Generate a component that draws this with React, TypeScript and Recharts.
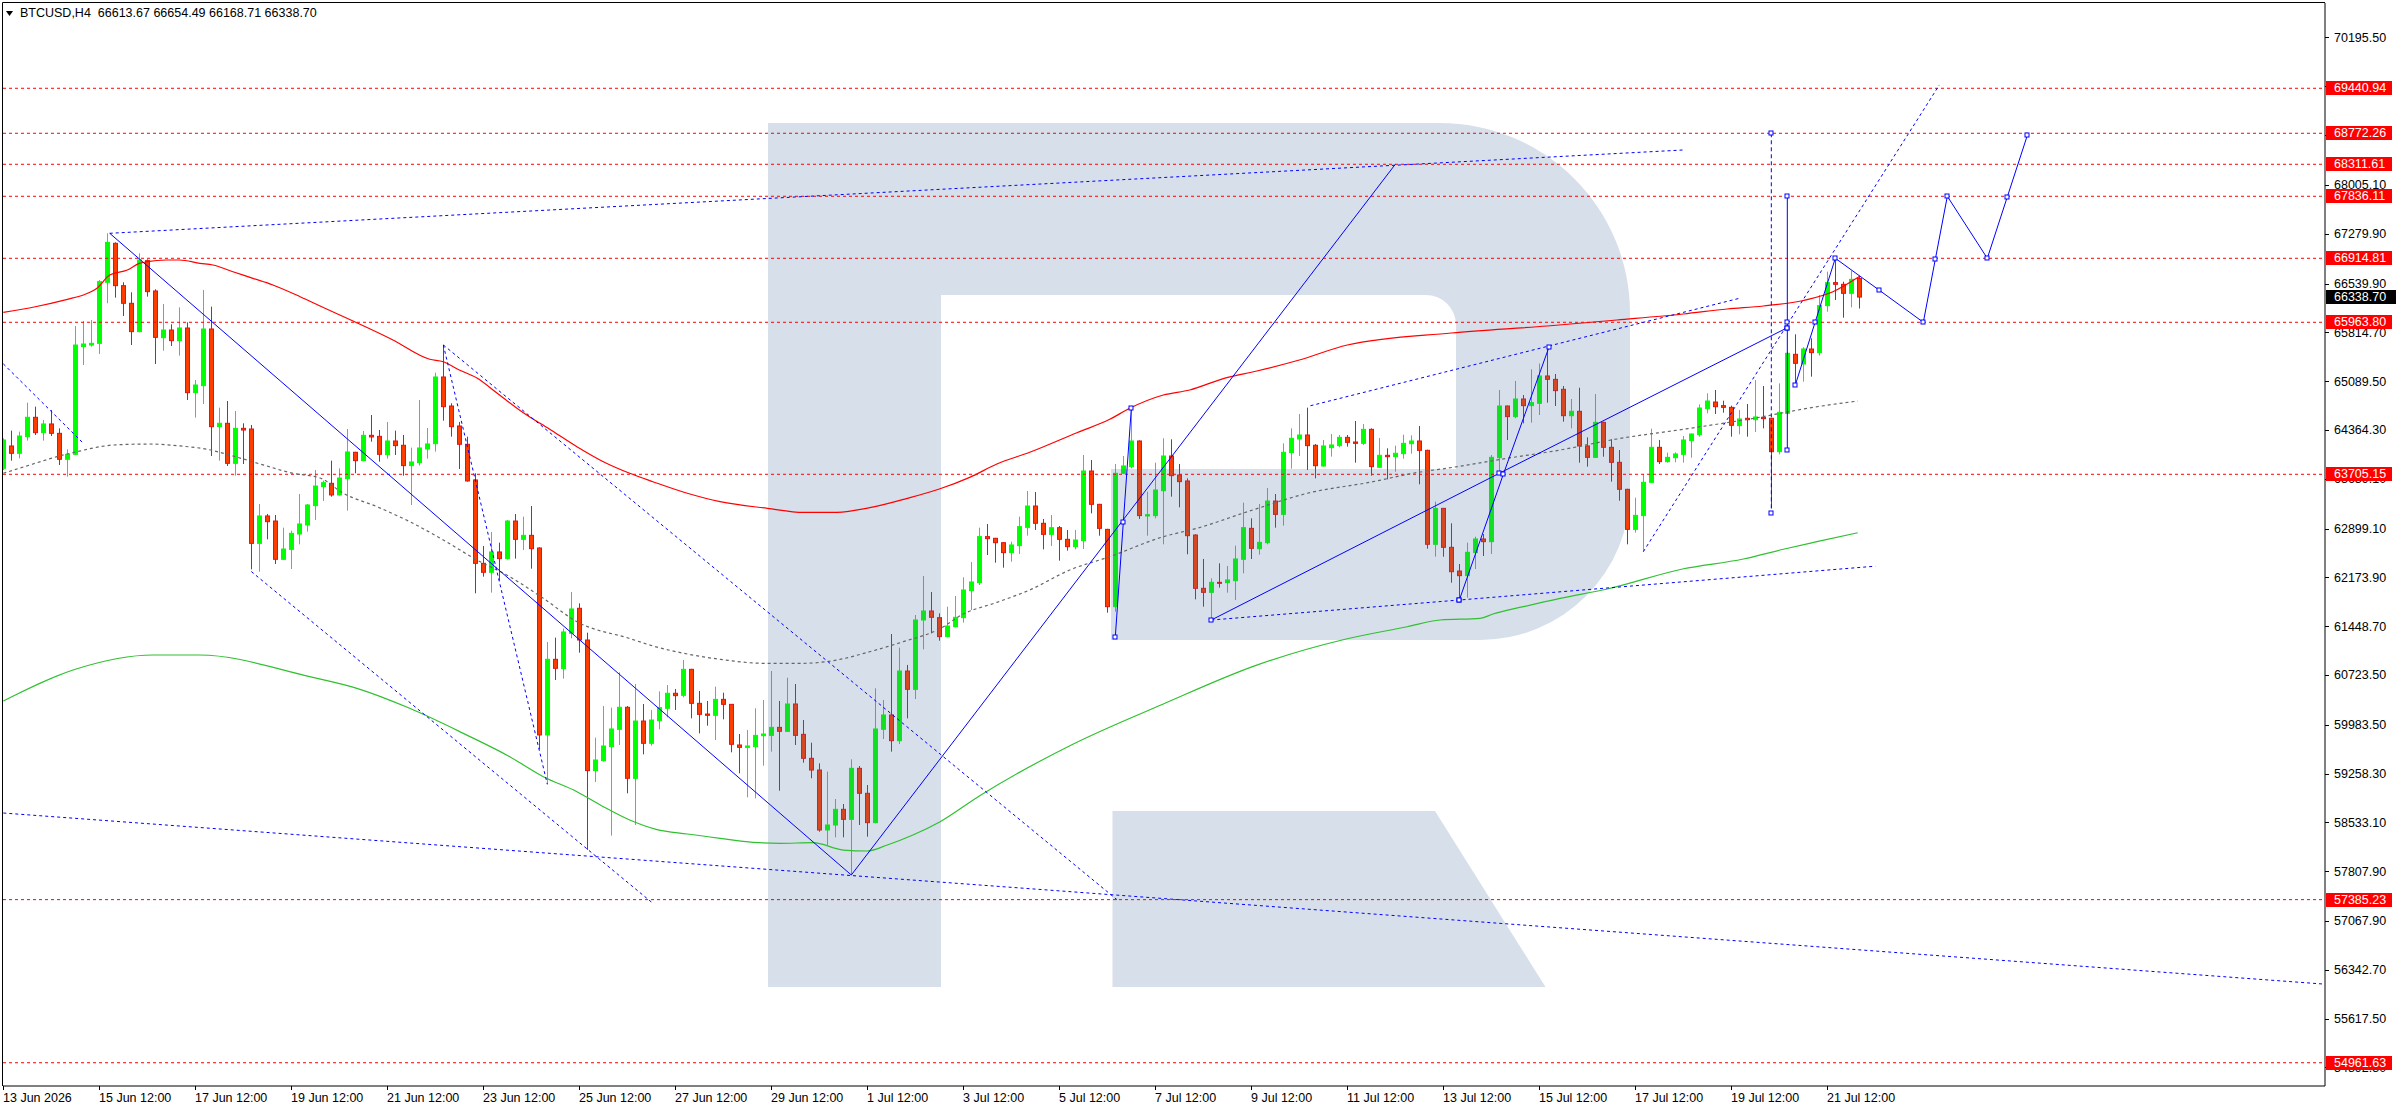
import React from 'react';
import { ComposedChart, Bar, Line, XAxis, YAxis, ReferenceLine } from 'recharts';

const W = 2396;
const H = 1110;
const FONT = '"Liberation Sans", Arial, sans-serif';

// ---- H4 candles (bar index 0 = 13 Jun 12:00) ----
const opens = [
  63794, 64126, 64017, 64264, 64552, 64324, 64453, 64314, 63928, 64002,
  65602, 65626, 65651, 66558, 67137, 66508, 66246, 65825, 66880, 66429,
  65735, 65849, 65691, 65879, 64918, 65022, 65864, 64413, 64463, 63868,
  64388, 64378, 62679, 63086, 63011, 62442, 62590, 62818, 62952, 63239,
  63522, 63571, 63398, 63640, 64032, 63908, 64284, 64269, 63997, 64200,
  64136, 63834, 63878, 64081, 64160, 65151, 64720, 64423, 64151, 63621,
  62382, 62249, 62551, 62452, 63011, 62739, 62798, 62610, 59832, 60956,
  60817, 61342, 61714, 61243, 59302, 59450, 59658, 59916, 60243, 59188,
  60039, 59708, 60044, 60228, 60451, 60421, 60807, 60302, 60143, 60124,
  60361, 60287, 59683, 59648, 59658, 59821, 59826, 59945, 59886, 60292,
  59841, 59485, 59311, 58420, 58494, 58727, 58578, 59336, 58965, 58529,
  59916, 60129, 59747, 60782, 60510, 61540, 61674, 61575, 61293, 61441,
  61575, 61976, 62095, 62779, 62754, 62689, 62541, 62645, 62917, 63234,
  62977, 62813, 62912, 62739, 62630, 62719, 63754, 63259, 62887, 61738,
  63720, 63819, 64200, 63086, 63091, 63462, 63977, 63695, 63606, 62803,
  62011, 61951, 62100, 62095, 62125, 62442, 62902, 62600, 62689, 63308,
  63110, 64027, 64230, 64289, 64136, 63828, 64101, 64131, 64254, 64185,
  64165, 64373, 63809, 63987, 63967, 64012, 64160, 64200, 64061, 62665,
  63199, 62620, 62268, 62199, 62541, 62744, 62704, 63952, 64720, 64562,
  64824, 64725, 64760, 65166, 65116, 64968, 64576, 64641, 64126, 63957,
  64477, 64106, 63883, 63482, 62887, 63091, 63586, 64106, 63893, 63952,
  64002, 64205, 64294, 64680, 64779, 64725, 64700, 64428, 64537, 64517,
  64552, 64537, 64041, 64611, 65488, 65344, 65567, 65513, 66211, 66553,
  66528, 66394, 66613.67,
];
const highs = [
  64240, 64354, 64339, 64770, 64710, 64512, 64661, 64388, 64076, 65909,
  65983, 65998, 66592, 67286, 67152, 66558, 66409, 66989, 66899, 66454,
  66236, 65934, 66186, 65963, 65106, 66444, 66196, 64695, 64794, 64646,
  64463, 64438, 63264, 63115, 63100, 62912, 62868, 63412, 63264, 63769,
  63611, 63908, 63794, 64378, 64040, 64349, 64586, 64364, 64482, 64354,
  64289, 64101, 64809, 64393, 65215, 65627, 64760, 64482, 64264, 63720,
  62640, 62848, 62689, 63026, 63115, 63076, 63234, 62620, 61213, 61278,
  61412, 61956, 61788, 61352, 59792, 60262, 60238, 60763, 60262, 60589,
  60292, 60203, 60480, 60574, 60515, 60946, 60815, 60485, 60337, 60550,
  60460, 60292, 59846, 59906, 60228, 60351, 60782, 60337, 60683, 60589,
  60054, 59717, 59410, 59287, 58880, 58806, 59470, 59371, 59088, 60525,
  60351, 61332, 61129, 60872, 61614, 62194, 61956, 61639, 61738, 61897,
  62174, 62402, 62912, 62967, 62760, 62695, 62704, 63076, 63457, 63442,
  63041, 63100, 62937, 62878, 62878, 63992, 63918, 63265, 62895, 63858,
  63977, 64661, 64210, 63447, 63878, 64240, 64225, 63858, 63645, 62813,
  62447, 62159, 62382, 62343, 62645, 63284, 63051, 63264, 63502, 63412,
  64165, 64388, 64601, 64695, 64155, 64215, 64304, 64289, 64289, 64497,
  64453, 64388, 64245, 64091, 64131, 64294, 64284, 64423, 64071, 63299,
  63205, 62977, 62372, 62689, 62778, 62818, 63992, 64958, 64725, 65092,
  64883, 65265, 65350, 65580, 65196, 65017, 64824, 64992, 64254, 64898,
  64487, 64225, 64066, 63490, 63358, 63705, 64383, 64215, 64027, 64032,
  64274, 64310, 64745, 64908, 64958, 64799, 64725, 64661, 64750, 65106,
  65017, 64545, 65057, 65527, 65785, 65592, 65726, 66369, 66716, 66915,
  66567, 66730, 66654.49,
];
const lows = [
  63769, 63908, 63942, 64205, 64289, 64205, 64274, 63843, 63670, 63992,
  65329, 65602, 65493, 66246, 66330, 66057, 65626, 65815, 66345, 65344,
  65542, 65612, 65468, 64809, 64547, 64750, 63977, 63908, 63829, 63685,
  63858, 62293, 62258, 62739, 62372, 62430, 62298, 62665, 62853, 63026,
  63309, 63373, 63390, 63165, 63720, 63900, 64190, 63893, 63938, 63992,
  63685, 63249, 63834, 63938, 64042, 64502, 64264, 63784, 63596, 61937,
  62184, 61946, 62125, 62440, 62452, 62580, 62303, 59619, 59099, 60649,
  60669, 61268, 61055, 58123, 59133, 59435, 58336, 59683, 58965, 58494,
  59544, 59673, 59916, 60094, 60203, 60391, 60079, 59856, 59970, 59757,
  60064, 59574, 59262, 58905, 58890, 59376, 59584, 59004, 59880, 59683,
  59420, 59188, 58395, 58197, 58311, 58311, 57751, 58494, 58321, 58520,
  59772, 59584, 59698, 60079, 60366, 61104, 61342, 61233, 61283, 61431,
  61501, 61689, 62060, 62506, 62392, 62318, 62407, 62521, 62793, 62878,
  62590, 62640, 62422, 62571, 62590, 62595, 63125, 62793, 61649, 61664,
  63710, 63794, 63041, 62793, 63051, 62665, 63373, 63214, 62516, 61847,
  61738, 61540, 62021, 61946, 61837, 62234, 62447, 62511, 62665, 62912,
  62942, 63789, 63977, 63769, 63645, 63819, 63967, 64106, 64116, 63878,
  64141, 63685, 63804, 63630, 63744, 63937, 64012, 63556, 62600, 62481,
  62481, 62095, 61837, 61872, 62298, 62491, 62521, 63754, 64215, 64537,
  64462, 64472, 64586, 64770, 64720, 64487, 64388, 63878, 63819, 63950,
  63967, 63596, 63313, 62665, 62838, 62556, 63580, 63858, 63878, 63883,
  63878, 63952, 64264, 64611, 64601, 64621, 64264, 64299, 64264, 64334,
  64388, 63199, 64002, 64601, 65057, 65082, 65156, 65468, 66122, 66295,
  66032, 66186, 66168.71,
];
const closes = [
  64215, 64017, 64274, 64552, 64324, 64453, 64314, 63928, 64002, 65626,
  65641, 65651, 66568, 67152, 66508, 66246, 65825, 66889, 66419, 65740,
  65849, 65691, 65879, 64918, 65032, 65864, 64413, 64463, 63868, 64388,
  64363, 62679, 63086, 63001, 62442, 62595, 62828, 62967, 63249, 63531,
  63581, 63398, 63650, 64037, 63908, 64284, 64260, 64002, 64200, 64131,
  63834, 63888, 64096, 64156, 65151, 64710, 64413, 64151, 63606, 62382,
  62249, 62551, 62452, 63011, 62739, 62798, 62600, 59832, 60956, 60822,
  61362, 61704, 61243, 59302, 59460, 59668, 59921, 60243, 59188, 60039,
  59708, 60054, 60238, 60451, 60416, 60807, 60302, 60138, 60124, 60361,
  60287, 59693, 59648, 59668, 59826, 59846, 59945, 59886, 60292, 59826,
  59485, 59311, 58420, 58494, 58727, 58578, 59336, 58965, 58529, 59921,
  60129, 59747, 60782, 60510, 61540, 61674, 61580, 61293, 61451, 61580,
  61986, 62105, 62779, 62749, 62689, 62541, 62655, 62927, 63234, 62977,
  62813, 62912, 62739, 62630, 62729, 63754, 63259, 62902, 61738, 63720,
  63829, 64200, 63091, 63105, 63472, 63977, 63685, 63596, 62793, 62011,
  61951, 62100, 62085, 62135, 62447, 62912, 62605, 62694, 63308, 63110,
  64032, 64240, 64289, 64131, 63833, 64126, 64141, 64254, 64180, 64165,
  64373, 63819, 63987, 63967, 64017, 64165, 64200, 64061, 62665, 63199,
  62620, 62258, 62199, 62546, 62744, 62704, 63957, 64720, 64562, 64824,
  64725, 64770, 65166, 65116, 64948, 64576, 64641, 64126, 63957, 64477,
  64106, 63883, 63482, 62887, 63095, 63586, 64106, 63893, 63957, 64007,
  64215, 64304, 64690, 64794, 64710, 64700, 64433, 64527, 64517, 64557,
  64532, 64041, 64626, 65503, 65354, 65567, 65513, 66211, 66553, 66528,
  66394, 66602, 66338.70,
];

// ---- axes ----
const xTickBars = [0, 12, 24, 36, 48, 60, 72, 84, 96, 108, 120, 132, 144, 156, 168, 180, 192, 204, 216, 228];
const xTickLabels = [
  '13 Jun 2026', '15 Jun 12:00', '17 Jun 12:00', '19 Jun 12:00', '21 Jun 12:00', '23 Jun 12:00',
  '25 Jun 12:00', '27 Jun 12:00', '29 Jun 12:00', '1 Jul 12:00', '3 Jul 12:00', '5 Jul 12:00',
  '7 Jul 12:00', '9 Jul 12:00', '11 Jul 12:00', '13 Jul 12:00', '15 Jul 12:00', '17 Jul 12:00',
  '19 Jul 12:00', '21 Jul 12:00',
];
const yTicks = [
  70195.5, 69470.3, 68745.1, 68005.1, 67279.9, 66539.9, 65814.7, 65089.5, 64364.3, 63639.1,
  62899.1, 62173.9, 61448.7, 60723.5, 59983.5, 59258.3, 58533.1, 57807.9, 57067.9, 56342.7,
  55617.5, 54892.3,
];
const levels = [69440.94, 68772.26, 68311.61, 67836.11, 66914.81, 65963.8, 63705.15, 57385.23, 54961.63];
const lastPrice = 66338.7;
const headerText = 'BTCUSD,H4  66613.67 66654.49 66168.71 66338.70';

// ---- moving averages, sampled [bar, price] ----
const maRed = [
  [0, 66112], [4, 66195], [8, 66305], [10, 66369], [11.7, 66469], [13.3, 66666], [15.5, 66741],
  [17, 66840], [18, 66864], [20.4, 66889], [22, 66889], [24.6, 66840], [26.2, 66815], [28.7, 66715],
  [31.2, 66617], [33.7, 66518], [37.1, 66344], [39.6, 66206], [48.7, 65701], [53.3, 65414],
  [55, 65378], [57, 65255], [59.2, 65136], [61.7, 64913], [65, 64620], [68.3, 64374], [71.7, 64115],
  [75, 63892], [78.3, 63720], [81.2, 63595], [85.5, 63423], [89.6, 63298], [95.5, 63200],
  [100, 63140], [104.2, 63140], [108.3, 63209], [113, 63348], [117, 63487], [120.8, 63660],
  [124.2, 63858], [128.3, 64032], [134.2, 64323], [138.3, 64522], [140.8, 64686], [145, 64883],
  [148.3, 64958], [152.6, 65131], [156.7, 65240], [162, 65403], [168, 65626], [181, 65805],
  [193, 65909], [201.7, 65998], [210, 66087], [215.5, 66161], [220, 66206], [225, 66288],
  [228.7, 66418], [232, 66644],
];
const maGreen = [
  [0, 60336], [9.1, 60812], [18.7, 61020], [24.5, 61020], [38.3, 60698], [44.2, 60525],
  [50.8, 60228], [57.5, 59856], [63.3, 59509], [67.5, 59212], [71.7, 58989], [75, 58766],
  [78.3, 58568], [81.6, 58430], [85.5, 58360], [89.6, 58296], [93.7, 58237], [97.1, 58222],
  [101.2, 58231], [105, 58122], [108, 58108], [110.5, 58197], [113.7, 58345], [117.1, 58543],
  [122, 58925], [133.5, 59683], [145, 60292], [156.5, 60862], [167.6, 61250], [175.5, 61440],
  [179.6, 61540], [184.6, 61565], [186.2, 61629], [190, 61738], [194.6, 61862], [200.5, 62001],
  [209.9, 62298], [217.5, 62446], [222.5, 62591], [226.7, 62704], [231.8, 62837],
];
const maGrey = [
  [0, 63720], [3.7, 63858], [6.7, 63967], [9.2, 64041], [12.1, 64115], [13.7, 64140], [18.3, 64155],
  [22.1, 64126], [25.5, 64076], [28.7, 63977], [32.1, 63858], [36.2, 63720], [39.6, 63650],
  [42.5, 63423], [46.7, 63224], [50.8, 63001], [55, 62729], [59.2, 62432], [63.3, 62183],
  [67.5, 61862], [71.7, 61515], [78.3, 61265], [81.2, 61154], [85.5, 61035], [89.6, 60956],
  [95, 60897], [100, 60897], [104.2, 60946], [108.3, 61069], [112.5, 61218], [117, 61406],
  [120, 61629], [124.2, 61803], [128.3, 61986], [133.3, 62283], [138.3, 62481], [145, 62778],
  [149.2, 62903], [155.8, 63160], [163, 63423], [171.2, 63595], [176.2, 63720], [181.2, 63809],
  [188, 63943], [194.6, 64066], [201.7, 64230], [210, 64374], [218.3, 64527], [226.7, 64709],
  [231.8, 64794],
];

// ---- drawn analysis lines, [bar, price, marker] ----
const solidTrends = [
  [[13.3, 67286], [106, 57751]],
  [[106, 57751], [174, 68311.61]],
];
const dottedTrends = [
  [[13.3, 67286], [210, 68524]],
  [[55, 65627], [139.2, 57385]],
  [[0, 65346], [10, 64166]],
  [[31, 62260], [81, 57350]],
  [[55, 65627], [68, 59099]],
  [[0, 58672], [290, 56131]],
  [[163.4, 64724], [217, 66320]],
  [[205, 62556], [242, 69490]],
  [[151, 61540], [182, 61837, 1], [234, 62340]],
];
const markedSolid = [
  [[139, 61292, 1], [140, 62992, 1], [141, 64686, 1]],
  [[151, 61540, 1], [187, 63720, 1], [223, 65883, 1]],
  [[182, 61837, 1], [187.5, 63705, 1], [193.2, 65591, 1]],
  [[223, 67836, 1], [223, 65964, 1], [223, 65883, 1], [223, 64066, 1]],
  [[224, 65032, 1], [226.5, 65974, 1], [229, 66915, 1], [234.5, 66440, 1], [240, 65964, 1],
   [241.5, 66900, 1], [243, 67836, 1], [248, 66915, 1], [250.5, 67828, 1], [253, 68740, 1]],
];
const dashedVertical = [[221, 68772, 1], [221, 63126, 1]];

// ---- layout ----
const X_DOMAIN: [number, number] = [-0.04, 290.21];
const Y_DOMAIN: [number, number] = [54616, 70708];
const BLUE = '#0000ff';

const candles = opens.map((o, i) => ({
  x: i,
  o,
  h: highs[i],
  l: lows[i],
  c: closes[i],
  range: [lows[i], highs[i]],
}));

const toPts = (arr: any[]) => arr.map((p) => ({ x: p[0], y: p[1], m: p[2] ? 1 : 0 }));

const Candle = (props: any) => {
  const { x, y, width, height, payload } = props;
  if (!payload || x == null) return <g />;
  const { o, h, l, c } = payload;
  const top = Math.min(y, y + height);
  const bot = Math.max(y, y + height);
  const k = (bot - top) / (h - l || 1);
  const py = (p: number) => top + (h - p) * k;
  const cx = Math.round(x + width / 2) + 0.5;
  const up = c >= o;
  const wick = up ? '#00ff00' : '#e81010';
  const bTop = py(Math.max(o, c));
  const bBot = py(Math.min(o, c));
  return (
    <g>
      <line x1={cx} x2={cx} y1={top} y2={bot} stroke={wick} strokeWidth={1} />
      <rect
        x={cx - 2}
        y={bTop}
        width={4}
        height={Math.max(bBot - bTop, 0.5)}
        fill={up ? '#00ff00' : '#ff3c00'}
        stroke={up ? '#00ff00' : '#e81010'}
        strokeWidth={1}
      />
    </g>
  );
};

const XTick = (props: any) => {
  const { x, y, payload } = props;
  const idx = xTickBars.indexOf(payload.value);
  const px = Math.round(x);
  return (
    <g>
      <line x1={px + 0.5} x2={px + 0.5} y1={y} y2={y + 4} stroke="#000" />
      <text x={px} y={y + 16} fontSize={12.5} fontFamily={FONT} fill="#000" textAnchor="start">
        {idx >= 0 ? xTickLabels[idx] : ''}
      </text>
    </g>
  );
};

const YTick = (props: any) => {
  const { x, y, payload } = props;
  const py = Math.round(y) + 0.5;
  return (
    <g>
      <line x1={x} x2={x + 4} y1={py} y2={py} stroke="#000" />
      <text x={x + 9} y={y} dy="0.35em" fontSize={12.5} fontFamily={FONT} fill="#000" textAnchor="start">
        {Number(payload.value).toFixed(2)}
      </text>
    </g>
  );
};

const LevelTag = (props: any) => {
  const { viewBox, text, bg } = props;
  if (!viewBox) return null;
  const yy = Math.round(viewBox.y);
  const x0 = viewBox.x + viewBox.width + 1;
  return (
    <g>
      <rect x={x0} y={yy - 7} width={bg === '#000' ? 72 : 66} height={14} fill={bg} />
      <text x={x0 + 8} y={yy} dy="0.35em" fontSize={12.5} fontFamily={FONT} fill="#fff">
        {text}
      </text>
    </g>
  );
};

const Marker = (props: any) => {
  const { cx, cy, payload, index } = props;
  if (!payload || !payload.m || cx == null) return <g key={`n${index}`} />;
  return (
    <rect
      key={`m${index}`}
      x={Math.round(cx) - 2}
      y={Math.round(cy) - 2}
      width={4}
      height={4}
      fill="#ffffff"
      stroke={BLUE}
      strokeWidth={1}
    />
  );
};

export default function App() {
  return (
    <div style={{ position: 'absolute', left: 0, top: 0, width: W, height: H, background: '#fff', overflow: 'hidden' }}>
      {/* layer 1: candles + axes */}
      <div style={{ position: 'absolute', left: 0, top: 0 }}>
        <ComposedChart width={W} height={H} data={candles} margin={{ top: 3, right: 0, bottom: 0, left: 3 }}>
          <XAxis
            type="number"
            dataKey="x"
            domain={X_DOMAIN}
            allowDataOverflow
            ticks={xTickBars}
            interval={0}
            tickSize={0}
            tickMargin={0}
            tickLine={false}
            axisLine={{ stroke: '#000' }}
            height={24}
            tick={(p: any) => <XTick {...p} />}
          />
          <YAxis
            type="number"
            orientation="right"
            domain={Y_DOMAIN}
            allowDataOverflow
            ticks={yTicks}
            interval={0}
            tickSize={0}
            tickMargin={0}
            tickLine={false}
            axisLine={{ stroke: '#000' }}
            width={71}
            tick={(p: any) => <YTick {...p} />}
          />
          <Bar dataKey="range" barSize={5} isAnimationActive={false} shape={(p: any) => <Candle {...p} />} />
        </ComposedChart>
      </div>

      {/* layer 2: watermark logo */}
      <svg width={W} height={H} style={{ position: 'absolute', left: 0, top: 0, pointerEvents: 'none' }}>
        <g fill="rgb(71,113,161)" fillOpacity={0.224}>
          <path d="M768 123 H1440 A190 190 0 0 1 1630 313 V490 A150 150 0 0 1 1480 640 H1111 V469 H1456 V325 A30 30 0 0 0 1426 295 H941 V987 H768 Z" />
          <path d="M1112.5 811 H1435 L1545.5 987 H1112.5 Z" />
        </g>
      </svg>

      {/* layer 3: indicators, levels and drawings */}
      <div style={{ position: 'absolute', left: 0, top: 0 }}>
        <ComposedChart width={W} height={H} margin={{ top: 3, right: 71, bottom: 24, left: 3 }}>
          <XAxis type="number" dataKey="x" domain={X_DOMAIN} allowDataOverflow hide />
          <YAxis type="number" domain={Y_DOMAIN} allowDataOverflow hide />
          {levels.map((lv) => (
            <ReferenceLine
              key={`lv${lv}`}
              y={lv}
              stroke="#ff0000"
              strokeDasharray="3 3"
              label={<LevelTag text={lv.toFixed(2)} bg="#ff0000" />}
            />
          ))}
          <ReferenceLine y={lastPrice} stroke="none" label={<LevelTag text={lastPrice.toFixed(2)} bg="#000" />} />
          <Line data={toPts(maGreen)} dataKey="y" type="monotone" stroke="#30c030" strokeWidth={1.2} dot={false} activeDot={false} isAnimationActive={false} />
          <Line data={toPts(maGrey)} dataKey="y" type="monotone" stroke="#666666" strokeWidth={1.2} strokeDasharray="3 3" dot={false} activeDot={false} isAnimationActive={false} />
          <Line data={toPts(maRed)} dataKey="y" type="monotone" stroke="#ff0000" strokeWidth={1.2} dot={false} activeDot={false} isAnimationActive={false} />
          {solidTrends.map((t, i) => (
            <Line key={`s${i}`} data={toPts(t)} dataKey="y" type="linear" stroke={BLUE} strokeWidth={1} dot={false} activeDot={false} isAnimationActive={false} />
          ))}
          {dottedTrends.map((t, i) => (
            <Line key={`d${i}`} data={toPts(t)} dataKey="y" type="linear" stroke={BLUE} strokeWidth={1} strokeDasharray="3 3" dot={Marker} activeDot={false} isAnimationActive={false} />
          ))}
          <Line data={toPts(dashedVertical)} dataKey="y" type="linear" stroke={BLUE} strokeWidth={1} strokeDasharray="4 3" dot={Marker} activeDot={false} isAnimationActive={false} />
          {markedSolid.map((t, i) => (
            <Line key={`m${i}`} data={toPts(t)} dataKey="y" type="linear" stroke={BLUE} strokeWidth={1} dot={Marker} activeDot={false} isAnimationActive={false} />
          ))}
        </ComposedChart>
      </div>

      {/* frame + header */}
      <svg width={W} height={H} style={{ position: 'absolute', left: 0, top: 0, pointerEvents: 'none' }}>
        <line x1={2.5} x2={2325} y1={2.5} y2={2.5} stroke="#000" />
        <line x1={2.5} x2={2.5} y1={2.5} y2={1086} stroke="#000" />
        <polygon points="6,11 13,11 9.5,16" fill="#000" />
        <text x={20} y={17} fontSize={12.5} fontFamily={FONT} fill="#000" style={{ whiteSpace: 'pre' }}>
          {headerText}
        </text>
      </svg>
    </div>
  );
}
